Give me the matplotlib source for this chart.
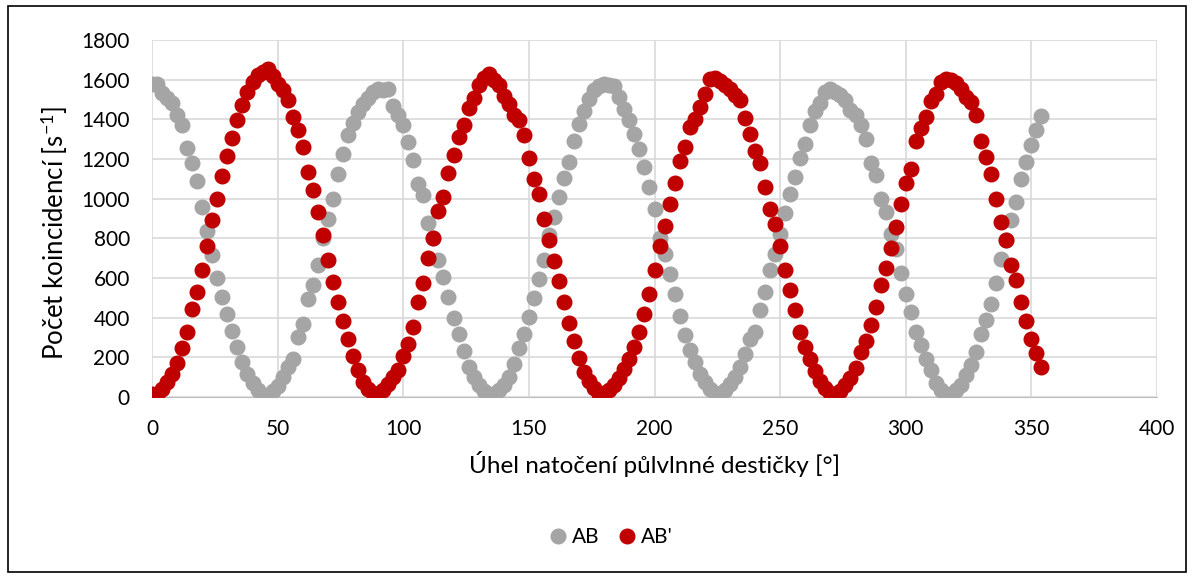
import numpy as np
import matplotlib
matplotlib.use("Agg")
import matplotlib.pyplot as plt
from matplotlib.patches import Rectangle

# angle of the half-wave plate [deg]
uhel = list(range(0, 356, 2))

# AB coincidences [1/s]
ab = [1580, 1577, 1535, 1510, 1480, 1420, 1370, 1255, 1180, 1090,
      960, 835, 715, 600, 505, 420, 335, 250, 175, 115,
      70, 33, 12, 5, 28, 55, 100, 150, 193, 302,
      370, 495, 565, 665, 800, 900, 1000, 1125, 1225, 1320,
      1380, 1435, 1475, 1510, 1540, 1555, 1548, 1552, 1465, 1420,
      1370, 1285, 1195, 1076, 1017, 877, 800, 690, 605, 504,
      400, 319, 230, 150, 100, 60, 30, 17, 13, 35,
      62, 100, 165, 245, 320, 405, 500, 595, 690, 815,
      910, 1010, 1106, 1185, 1290, 1375, 1440, 1505, 1546, 1570,
      1580, 1575, 1566, 1513, 1454, 1395, 1328, 1250, 1160, 1060,
      950, 800, 720, 620, 520, 410, 315, 235, 176, 118,
      75, 40, 20, 15, 34, 67, 100, 150, 215, 290,
      330, 440, 530, 640, 720, 820, 930, 1025, 1110, 1205,
      1275, 1370, 1440, 1480, 1540, 1552, 1540, 1525, 1500, 1449,
      1420, 1370, 1300, 1180, 1118, 1000, 933, 824, 745, 625,
      521, 429, 328, 261, 193, 134, 71, 37, 17, 12,
      34, 59, 109, 160, 227, 316, 387, 471, 575, 697,
      793, 891, 983, 1101, 1185, 1269, 1345, 1415]

# AB' coincidences [1/s]
ab_ = [15, 10, 40, 75, 115, 170, 245, 330, 445, 530,
       640, 760, 890, 1000, 1115, 1215, 1305, 1395, 1470, 1540,
       1590, 1625, 1640, 1655, 1620, 1580, 1550, 1500, 1410, 1345,
       1260, 1134, 1045, 935, 815, 690, 580, 480, 385, 290,
       205, 135, 78, 40, 20, 12, 36, 67, 100, 135,
       205, 265, 355, 480, 575, 700, 800, 940, 1010, 1130,
       1220, 1310, 1370, 1455, 1510, 1575, 1610, 1627, 1600, 1575,
       1520, 1475, 1420, 1395, 1320, 1205, 1100, 1025, 900, 790,
       685, 585, 480, 375, 280, 195, 128, 80, 45, 17,
       20, 35, 60, 95, 140, 190, 250, 330, 420, 520,
       640, 760, 860, 975, 1080, 1190, 1260, 1360, 1400, 1460,
       1530, 1605, 1610, 1595, 1575, 1555, 1525, 1496, 1405, 1325,
       1240, 1180, 1060, 950, 870, 760, 640, 540, 440, 330,
       250, 190, 130, 80, 45, 20, 12, 32, 60, 95,
       145, 225, 280, 365, 455, 565, 650, 750, 855, 975,
       1080, 1150, 1290, 1355, 1410, 1490, 1530, 1590, 1605, 1600,
       1585, 1555, 1515, 1485, 1420, 1290, 1210, 1125, 1000, 880,
       790, 665, 590, 480, 385, 290, 220, 150]

plt.rcParams['font.family'] = ['Lato', 'DejaVu Sans']
plt.rcParams['mathtext.fontset'] = 'custom'
plt.rcParams['mathtext.rm'] = 'Lato'
plt.rcParams['mathtext.it'] = 'Lato:italic'

fig = plt.figure(figsize=(11.94, 5.76), dpi=100)
ax = fig.add_axes([152/1194, 1 - 397/576, 1005/1194, 357/576])

ax.plot(uhel, ab, 'o', ls='none', ms=10.5, color='#A5A5A5', label='AB', zorder=3)
ax.plot(uhel, ab_, 'o', ls='none', ms=10.5, color='#C00000', label="AB'", zorder=3)

ax.set_xlim(0, 400)
ax.set_ylim(0, 1800)
ax.set_xticks(np.arange(0, 401, 50))
ax.set_yticks(np.arange(0, 1801, 200))
ax.grid(True, color='#D9D9D9', lw=1.2)
ax.set_axisbelow(True)
for s in ['top', 'right', 'left']:
    ax.spines[s].set_visible(False)
ax.spines['bottom'].set_color('#BFBFBF')
ax.tick_params(length=0, labelsize=15, pad=16)

ax.set_xlabel('Úhel natočení půlvlnné destičky [°]', fontsize=17.5, va='top')
ax.xaxis.set_label_coords(0.5, -0.152)
ax.set_ylabel(r'Počet koincidencí [s$^{\mathrm{-1}}$]', fontsize=18.5)
ax.yaxis.set_label_coords(-0.082, 0.46)

fig.legend(loc='center', bbox_to_anchor=(0.512, 0.068), ncol=2, frameon=False,
           fontsize=15, handlelength=0.8, handletextpad=0.3, columnspacing=0.9)

# outer chart border
fig.patches.append(Rectangle((8/1194, 4/576), 1178/1194, 566/576, transform=fig.transFigure,
                             fill=False, edgecolor='black', lw=1.2))

fig.savefig('out.png', dpi=100)
